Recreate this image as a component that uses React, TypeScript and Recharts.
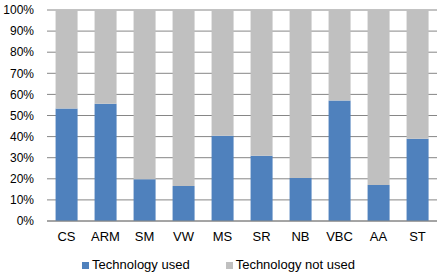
import React from "react";
import {
  BarChart,
  Bar,
  XAxis,
  YAxis,
  CartesianGrid,
  Legend,
} from "recharts";

const categories = ["CS", "ARM", "SM", "VW", "MS", "SR", "NB", "VBC", "AA", "ST"];
const usedValues = [53.3, 55.6, 19.8, 16.6, 40.4, 30.9, 20.4, 57.1, 17.1, 39];
const yTicks = [0, 10, 20, 30, 40, 50, 60, 70, 80, 90, 100];

const data = categories.map((name, i) => ({
  name,
  used: usedValues[i],
  notUsed: 100 - usedValues[i],
}));

const FONT = "'Liberation Sans', Arial, sans-serif";

const LegendContent = () => (
  <div
    style={{
      display: "flex",
      justifyContent: "center",
      fontFamily: FONT,
      fontSize: 13,
      color: "#000",
      lineHeight: "16px",
    }}
  >
    <span style={{ display: "flex", alignItems: "center", marginRight: 36 }}>
      <span style={{ width: 7, height: 7, background: "#4F81BD", marginRight: 3 }} />
      Technology used
    </span>
    <span style={{ display: "flex", alignItems: "center" }}>
      <span style={{ width: 7, height: 7, background: "#C0C0C0", marginRight: 3 }} />
      Technology not used
    </span>
  </div>
);

const App = () => {
  return (
    <div style={{ position: "absolute", left: 0, top: 0, background: "#fff" }}>
      <BarChart
        width={439}
        height={276}
        data={data}
        margin={{ top: 10, right: 2, left: 0, bottom: 14 }}
        barCategoryGap="22%"
      >
        <CartesianGrid vertical={false} stroke="#868686" />
        <YAxis
          width={47}
          domain={[0, 100]}
          ticks={yTicks}
          tickFormatter={(v: number) => `${v}%`}
          axisLine={false}
          tickLine={false}
          tickMargin={7}
          interval={0}
          tick={{ fill: "#000", fontSize: 12, fontFamily: FONT }}
        />
        <XAxis
          dataKey="name"
          height={25}
          axisLine={{ stroke: "#868686" }}
          tickLine={false}
          tickMargin={5}
          interval={0}
          tick={{ fill: "#000", fontSize: 13, fontFamily: FONT }}
        />
        <Legend
          verticalAlign="bottom"
          content={() => <LegendContent />}
          wrapperStyle={{ bottom: 3 }}
        />
        <Bar dataKey="used" stackId="a" fill="#4F81BD" isAnimationActive={false} />
        <Bar dataKey="notUsed" stackId="a" fill="#C0C0C0" isAnimationActive={false} />
      </BarChart>
    </div>
  );
};

export default App;
